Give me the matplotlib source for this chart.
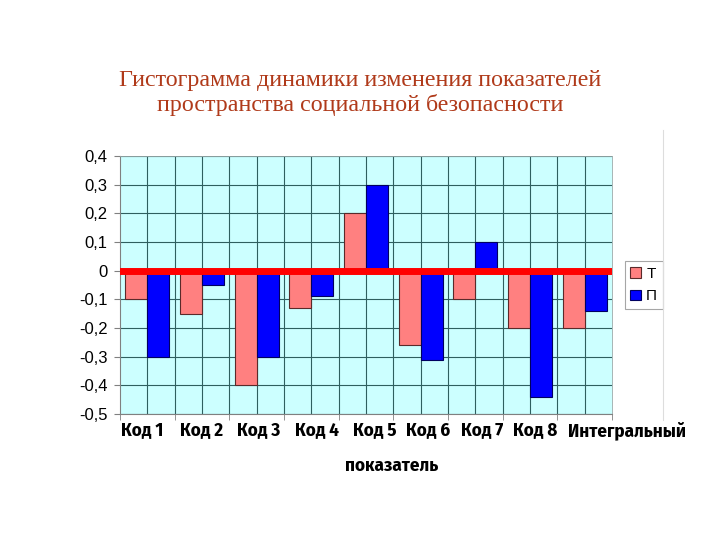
import matplotlib
matplotlib.use("Agg")
import matplotlib.pyplot as plt
import matplotlib.transforms as mtransforms
from matplotlib import font_manager
from matplotlib.ft2font import FT2Font
from matplotlib.ticker import FuncFormatter, MultipleLocator
from matplotlib.lines import Line2D
import numpy as np

categories = ["Код 1", "Код 2", "Код 3", "Код 4", "Код 5", "Код 6", "Код 7", "Код 8", "Интегральный"]
t_values = [-0.10, -0.15, -0.40, -0.13, 0.20, -0.26, -0.10, -0.20, -0.20]
p_values = [-0.30, -0.05, -0.30, -0.09, 0.30, -0.31, 0.10, -0.44, -0.14]
series_names = ["Т", "П"]
title = "Гистограмма динамики изменения показателей\nпространства социальной безопасности"


def has_cyrillic(path):
    try:
        cmap = FT2Font(path).get_charmap()
        return all(ord(c) in cmap for c in "КодИнтегральныйпоказатель")
    except Exception:
        return False


cands = []
for f in font_manager.fontManager.ttflist:
    if ("Narrow" in f.name or "Condensed" in f.name or f.stretch in ("condensed", "semi-condensed")) \
            and "DejaVu" not in f.name and f.style == "normal":
        wt = f.weight if isinstance(f.weight, int) else (700 if f.weight == "bold" else 400)
        if wt >= 600 and has_cyrillic(f.fname):
            cands.append((abs(wt - 700), f.fname))
if cands:
    label_fp = font_manager.FontProperties(fname=sorted(cands)[0][1], size=13.6)
else:
    label_fp = font_manager.FontProperties(family="Liberation Sans", weight="bold", size=11.5)

fig = plt.figure(figsize=(7.2, 5.4), dpi=100)
ax = fig.add_axes([120/720, 1-414/540, (612-120)/720, (414-156)/540])
ax.set_facecolor("#CCFFFF")

x = np.arange(len(categories))
w = 0.4
ax.bar(x - w/2, t_values, w, color="#FF8080", edgecolor="#5a2a2a", linewidth=0.8, label=series_names[0], zorder=3)
ax.bar(x + w/2, p_values, w, color="#0000FF", edgecolor="#000060", linewidth=0.8, label=series_names[1], zorder=3)
ax.axhline(0, color="#FF0000", linewidth=5, zorder=4)

ax.set_xlim(-0.5, len(categories) - 0.5)
ax.set_ylim(-0.5, 0.4)
ax.yaxis.set_major_locator(MultipleLocator(0.1))
ax.yaxis.set_major_formatter(FuncFormatter(lambda v, p: ("0" if abs(v) < 1e-9 else f"{v:.1f}".replace(".", ","))))

# vertical grid at every half category
for gx in np.arange(0.0, len(categories) - 0.5, 0.5):
    ax.axvline(gx, color="#2F5F5F", linewidth=0.8, zorder=1)
ax.grid(True, which="major", axis="y", color="#2F5F5F", linewidth=0.8, zorder=1)
ax.set_xticks(np.arange(-0.5, len(categories), 1.0), minor=True)
ax.set_xticks(x)
ax.set_xticklabels(categories, fontproperties=label_fp)
ax.tick_params(axis="x", which="major", length=0, pad=5)
ax.tick_params(axis="x", which="minor", length=4, color="#808080")
ax.tick_params(axis="y", length=4, color="#808080", labelsize=12, pad=5)
for lbl in ax.get_yticklabels():
    lbl.set_fontfamily("Liberation Sans")

# shift labels (pixels) as in reference
offsets = [-5, -1, 2, 6, 9, 7, 7, 5, 0]
labels = ax.get_xticklabels()
for lbl, dx in zip(labels, offsets):
    lbl.set_transform(lbl.get_transform() + mtransforms.ScaledTranslation(dx/100, 0, fig.dpi_scale_trans))
labels[-1].set_horizontalalignment("left")
labels[-1].set_transform(labels[-1].get_transform() + mtransforms.ScaledTranslation(-17/100, 0, fig.dpi_scale_trans))

for s in ["top", "right"]:
    ax.spines[s].set_color("#9aa")
    ax.spines[s].set_linewidth(0.6)
for s in ["left", "bottom"]:
    ax.spines[s].set_color("#808080")
    ax.spines[s].set_linewidth(0.8)

fig.text(392/720, 1-466/540, "показатель", ha="center", va="center", fontproperties=label_fp)

fig.text(360/720, 1-93/540, title, ha="center", va="center", fontfamily="Liberation Serif",
         fontsize=17.3, color="#B03A1A", linespacing=1.2)

leg = ax.legend(loc="center left", bbox_to_anchor=(1.026, 0.50), frameon=True, fancybox=False,
                handlelength=0.7, handleheight=0.7, handletextpad=0.35, borderpad=0.35,
                labelspacing=0.55, borderaxespad=0, prop={"family": "Liberation Sans", "size": 11})
leg.get_frame().set_edgecolor("#909090")
leg.get_frame().set_linewidth(0.8)

fig.add_artist(Line2D([663/720, 663/720], [1-420/540, 1-130/540], color="#DDDDDD", linewidth=0.8))

fig.savefig("out.png", dpi=100)
